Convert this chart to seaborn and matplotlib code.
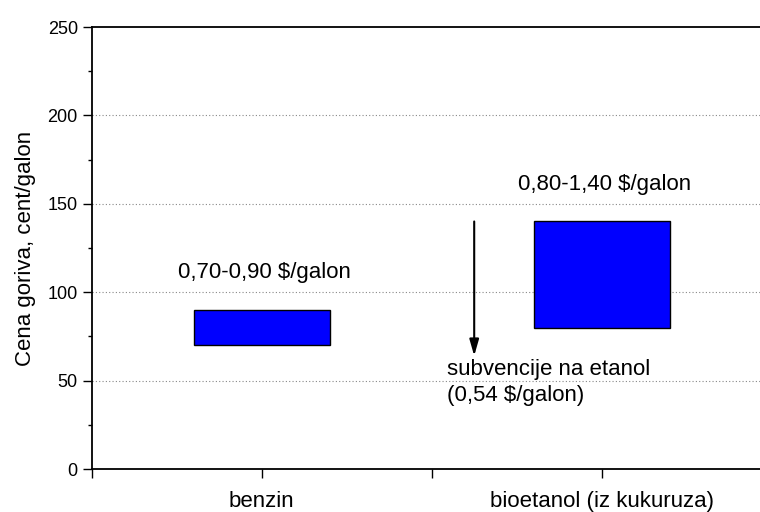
import matplotlib
matplotlib.use('Agg')
import matplotlib.pyplot as plt
from matplotlib.ticker import MultipleLocator
import seaborn as sns

# Price ranges (cent/galon)
fuels = ['benzin', 'bioetanol (iz kukuruza)']
positions = [1, 3]
low = [70, 80]
high = [90, 140]
range_labels = ['0,70-0,90 $/galon', '0,80-1,40 $/galon']
subsidy_top = 140
subsidy_tip = 64
subsidy_label = 'subvencije na etanol\n(0,54 $/galon)'

heights = [h - l for h, l in zip(high, low)]

sns.set_style('ticks')
plt.rcParams['font.family'] = ['Liberation Sans', 'DejaVu Sans']
plt.rcParams.update({'text.color': 'black', 'axes.labelcolor': 'black',
                     'xtick.color': 'black', 'ytick.color': 'black',
                     'xtick.labelcolor': 'black', 'ytick.labelcolor': 'black'})

fig = plt.figure(figsize=(7.6, 5.12), dpi=100)
ax = fig.add_axes([91.7 / 760, 43 / 512, 680 / 760, 442 / 512])

sns.barplot(x=positions, y=heights, bottom=low, native_scale=True, width=0.4,
            color='#0000FF', saturation=1, edgecolor='black', linewidth=1,
            errorbar=None, ax=ax)

# labels above each price range
for p, h, txt in zip(positions, high, range_labels):
    ax.text(p + 0.015, h + 18, txt, ha='center', va='baseline', fontsize=16)

# subsidy arrow
ax.annotate('', xy=(2.25, subsidy_tip), xytext=(2.25, subsidy_top),
            arrowprops=dict(arrowstyle='-|>,head_length=0.7,head_width=0.2',
                            color='black', lw=1.5, mutation_scale=14,
                            shrinkA=0, shrinkB=0))
ax.text(2.088, 62, subsidy_label, ha='left', va='top', fontsize=16,
        linespacing=1.3)

ax.set_xlim(0, 4)
ax.set_ylim(0, 250)
ax.set_xticks([0, 1, 2, 3, 4])
ax.set_xticklabels(['', fuels[0], '', fuels[1], ''], fontsize=16)
ax.yaxis.set_major_locator(MultipleLocator(50))
ax.yaxis.set_minor_locator(MultipleLocator(25))
ax.tick_params(axis='y', labelsize=13)
ax.tick_params(which='major', direction='out', length=6.5, width=1, color='black')
ax.tick_params(which='minor', direction='out', length=3, width=1, color='black')
ax.tick_params(axis='x', pad=9)

for y in [50, 100, 150, 200]:
    ax.axhline(y, color='#888888', linestyle=(0, (1, 2)), linewidth=0.8, zorder=0)

ax.set_ylabel('Cena goriva, cent/galon', fontsize=16, labelpad=8)
ax.set_xlabel('')

for s in ['left', 'bottom', 'top']:
    ax.spines[s].set_color('black')
    ax.spines[s].set_linewidth(1.3)
ax.spines['right'].set_visible(False)

fig.savefig('out.png', dpi=100)
